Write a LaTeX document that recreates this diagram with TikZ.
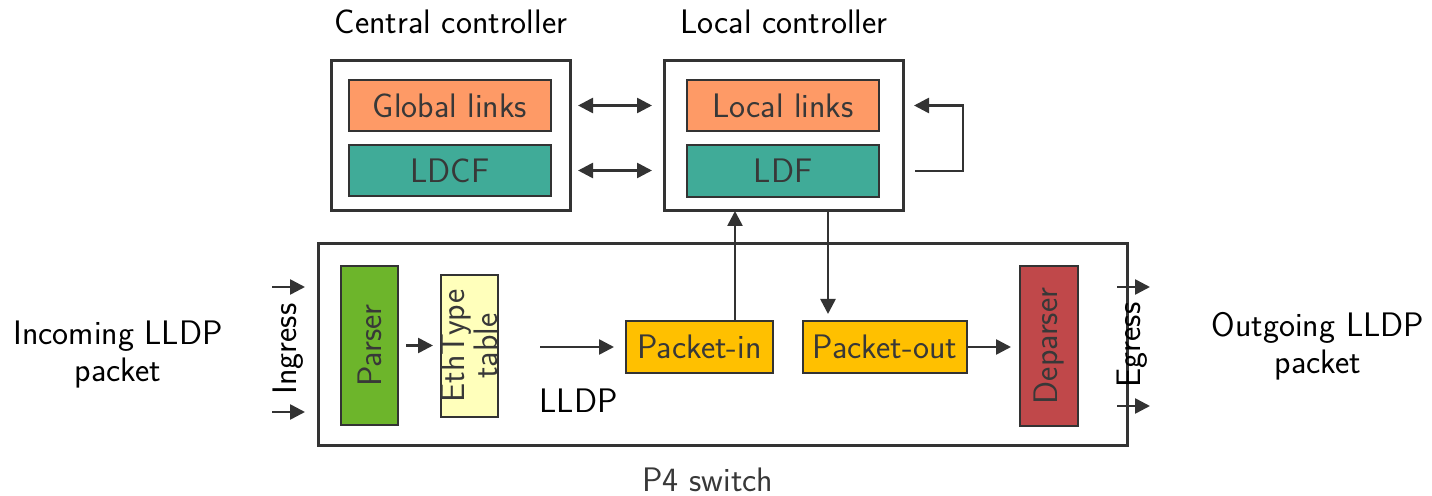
\documentclass[tikz,border=0pt]{standalone}
\usepackage{fontspec}
\usetikzlibrary{arrows.meta,calc}
\definecolor{ln}{HTML}{333333}
\definecolor{tx}{HTML}{383838}
\definecolor{corange}{HTML}{FE9A66}
\definecolor{cteal}{HTML}{40AB98}
\definecolor{cgreen}{HTML}{6DB52B}
\definecolor{cyel}{HTML}{FFFFBB}
\definecolor{cgold}{HTML}{FFC000}
\definecolor{cred}{HTML}{C0484A}
\begin{document}
\begin{tikzpicture}[x=0.5pt,y=-0.5pt,
  every node/.style={font=\sffamily\fontsize{17}{18.5}\selectfont, inner sep=0pt, outer sep=0pt},
  outer/.style={draw=ln, line width=1.5pt, fill=white},
  inbox/.style={draw=ln, line width=1.2pt, text=tx},
  arr/.style={draw=ln, line width=1.3pt, -{Triangle[length=7.5pt,width=7.5pt]}},
  darr/.style={draw=ln, line width=1.3pt, {Triangle[length=7.5pt,width=7.5pt]}-{Triangle[length=7.5pt,width=7.5pt]}},
  lbl/.style={text=black}
]
\useasboundingbox (0,0) rectangle (1432,496);

% controllers
\node[outer, minimum width=119.5pt, minimum height=75pt] (cc) at (450.5,136) {};
\node[outer, minimum width=119.5pt, minimum height=75pt] (lc) at (783.5,136) {};
\node[inbox, fill=corange, minimum width=101pt, minimum height=25.5pt] (gl) at (450,105.5) {Global links};
\node[inbox, fill=cteal, minimum width=101pt, minimum height=25.5pt] (ldcf) at (450,170.5) {LDCF};
\node[inbox, fill=corange, minimum width=96pt, minimum height=25.5pt] (ll) at (783,105.5) {Local links};
\node[inbox, fill=cteal, minimum width=96pt, minimum height=26pt] (ldf) at (783,171) {LDF};
\node[lbl, anchor=base] (cct) at (451,34) {Central controller};
\node[lbl, anchor=base] (lct) at (784,34) {Local controller};

% switch
\node[outer, minimum width=404.5pt, minimum height=101pt] (sw) at (722.5,345) {};
\node[text=tx, anchor=base] (swt) at (708,492) {P4 switch};
\node[inbox, fill=cgreen, minimum width=79.5pt, minimum height=28.5pt, rotate=90] (parser) at (369.5,345.5) {Parser};
\node[inbox, fill=cyel, minimum width=71pt, minimum height=28.5pt, rotate=90, align=center, font=\sffamily\fontsize{17}{14.5}\selectfont] (eth) at (469.5,346) {EthType\\table};
\node[inbox, fill=cgold, minimum width=73.5pt, minimum height=26pt] (pin) at (699.5,347) {Packet-in};
\node[inbox, fill=cgold, minimum width=82pt, minimum height=26pt] (pout) at (885,347) {Packet-out};
\node[inbox, fill=cred, minimum width=80pt, minimum height=29pt, rotate=90] (dep) at (1049,346) {Deparser};
\node[lbl, anchor=base] (lldp) at (578.5,413) {LLDP};

% outer labels
\node[lbl, anchor=base] (inc1) at (118,345) {Incoming LLDP};
\node[lbl, anchor=base] (inc2) at (118,382) {packet};
\node[lbl, anchor=base] (out1) at (1318,337) {Outgoing LLDP};
\node[lbl, anchor=base] (out2) at (1318,374) {packet};
\node[lbl, rotate=90] (ing) at (288,349) {Ingress};
\node[lbl, rotate=90] (egr) at (1132,345) {Egress};

% io arrows
\coordinate (i1a) at (272,287); \coordinate (i1b) at (305,287);
\coordinate (i2a) at (272,412); \coordinate (i2b) at (305,412);
\coordinate (e1a) at (1117,287); \coordinate (e1b) at (1150,287);
\coordinate (e2a) at (1117,406); \coordinate (e2b) at (1150,406);
\draw[arr] (i1a) -- (i1b);
\draw[arr] (i2a) -- (i2b);
\draw[arr] (e1a) -- (e1b);
\draw[arr] (e2a) -- (e2b);

% controller links
\draw[darr, shorten <=4pt, shorten >=6pt] (cc.east |- gl.east) -- (lc.west |- gl.east);
\draw[darr, shorten <=4pt, shorten >=6pt] (cc.east |- ldcf.east) -- (lc.west |- ldcf.east);
\draw[arr] ([xshift=6pt]lc.east |- ldf.east) -- ++(48,0) |- ([xshift=5.5pt]lc.east |- ll.east);

% pipeline
\draw[arr, shorten <=4pt, shorten >=4pt] (parser.south) -- (parser.south -| eth.north);
\draw[arr, shorten <=21pt, shorten >=6pt] (eth.south |- pin.west) -- (pin.west);
\draw[arr, shorten >=4.5pt] (pout.east) -- (pout.east -| dep.north);
\draw[arr] ([xshift=17.75pt]pin.north) -- ([xshift=17.75pt]pin.north |- lc.south);
\draw[arr, shorten >=3.5pt] ([xshift=-28.5pt]pout.north |- lc.south) -- ([xshift=-28.5pt]pout.north);
\end{tikzpicture}
\end{document}
